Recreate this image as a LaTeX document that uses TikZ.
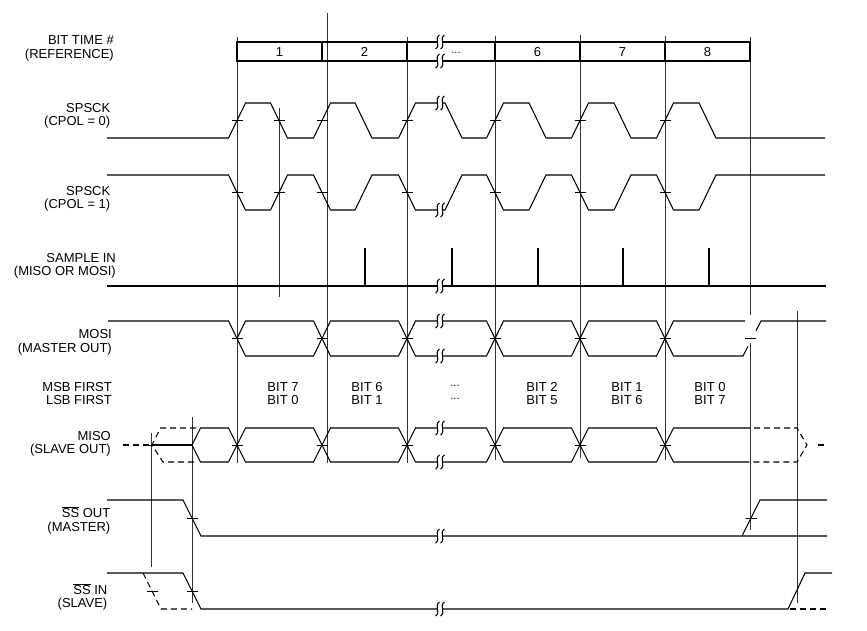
\documentclass[tikz,border=0pt]{standalone}
\usepackage{fontspec}
\setmainfont{Liberation Sans}
\usepackage{tikz}

% break mark across a signal line
\newcommand{\sigbreak}[1]{%
  \foreach \bx in {437.5,442.5}
    \draw[sig] ({\bx+2},{#1-7}) .. controls ({\bx-4},{#1-3}) and ({\bx+4},{#1+3}) .. ({\bx-2},{#1+7});
}
\newcommand{\bitdots}{\raisebox{2.5pt}{\fontsize{11}{11}\selectfont ...}}

\begin{document}
\begin{tikzpicture}[
    x=1pt, y=-1pt,
    sig/.style={line width=1.05pt, black},
    dsig/.style={sig, dash pattern=on 6pt off 4pt},
    ref/.style={line width=0.8pt, black!80},
    tck/.style={line width=0.8pt, black},
    lbl/.style={
      anchor=east,
      align=right,
      inner sep=0pt,
      font=\fontsize{13}{13.5}\selectfont
    },
    txt/.style={
      align=center,
      inner sep=0pt,
      font=\fontsize{13}{13.5}\selectfont
    }
  ]
    \useasboundingbox (0,0) rectangle (867,630);

    % Signal names
    \node[lbl] (lbit) at (114,48.5) {BIT TIME \#\\(REFERENCE)};
    \node[lbl] (lck0) at (110.5,116) {SPSCK\\(CPOL = 0)};
    \node[lbl] (lck1) at (110.5,199) {SPSCK\\(CPOL = 1)};
    \node[lbl] (lsmp) at (116,266) {SAMPLE IN\\(MISO OR MOSI)};
    \node[lbl] (lmosi) at (112,342.5) {MOSI\\(MASTER OUT)};
    \node[lbl] (lord) at (112,393.5) {MSB FIRST\\LSB FIRST};
    \node[lbl] (lmiso) at (111,444) {MISO\\(SLAVE OUT)};
    \node[lbl] (lsso) at (110.5,520.5) {$\overline{\mbox{SS}}$ OUT\\(MASTER)};
    \node[lbl] (lssi) at (107.5,597) {$\overline{\mbox{SS}}$ IN\\(SLAVE)};

    % Reference lines
    \foreach \x/\t/\b in {237/37/463, 327/13/463, 407/37/463, 495/36/460,
        580/35/458, 665/36/460, 279/108/297, 151/433/567, 192/417/603, 797/311/603}
      \draw[ref] (\x,\t) -- (\x,\b);
    \draw[ref] (750,37) -- (750,315) (750,343) -- (750,530);

    % Bit time row
    \draw[sig] (437.5,42) -- (237,42) -- (237,61) -- (437.5,61);
    \draw[sig] (442.5,42) -- (750,42) -- (750,61) -- (442.5,61);
    \foreach \x in {322,407,495,580,665}
      \draw[sig] (\x,42) -- (\x,61);
    \sigbreak{42}
    \sigbreak{61}
    \foreach \x/\n [count=\i] in {279.5/1, 364.5/2, 456/\bitdots, 537.5/6, 622.5/7, 707.5/8}
      \node[txt, anchor=base] (bt\i) at (\x,56) {\n};

    % Clocks
    \foreach \idle/\act in {138/103, 175/210} {
      \draw[sig] (107,\idle) -- (228.5,\idle) -- (245.5,\act) -- (270.5,\act) -- (287.5,\idle)
        -- (313.5,\idle) -- (330.5,\act) -- (355,\act) -- (372,\idle) -- (398.5,\idle)
        -- (415.5,\act) -- (437.5,\act);
      \draw[sig] (442.5,\act) -- (445,\act) -- (462,\idle) -- (486.5,\idle) -- (503.5,\act)
        -- (529,\act) -- (546,\idle) -- (571.5,\idle) -- (588.5,\act) -- (614,\act)
        -- (631,\idle) -- (656.5,\idle) -- (673.5,\act) -- (699,\act) -- (716,\idle) -- (825,\idle);
      \sigbreak{\act}
      \foreach \x in {237,279,322,407,495,580,665}
        \draw[tck] ({\x-5.5},{(\idle+\act)/2}) -- ({\x+5.5},{(\idle+\act)/2});
    }

    % Sample in
    \draw[sig] (107,286) -- (437.5,286) (442.5,286) -- (826,286);
    \sigbreak{286}
    \foreach \x in {365,452,538,623,709}
      \draw[sig] (\x,248) -- (\x,286);

    % MOSI
    \draw[sig] (108,321) -- (228.5,321) -- (237,338.5);
    \foreach \a/\b in {237/322, 322/407, 495/580, 580/665}
      \draw[sig] (\a,338.5) -- ({\a+8.5},321) -- ({\b-8.5},321) -- (\b,338.5)
        -- ({\b-8.5},356) -- ({\a+8.5},356) -- cycle;
    \draw[sig] (437.5,321) -- (415.5,321) -- (407,338.5) -- (415.5,356) -- (437.5,356);
    \draw[sig] (442.5,321) -- (486.5,321) -- (495,338.5) -- (486.5,356) -- (442.5,356);
    \draw[sig] (745,321) -- (673.5,321) -- (665,338.5) -- (673.5,356) -- (743,356) -- (748,346.3);
    \draw[sig] (756,330.7) -- (761,321) -- (826,321);
    \sigbreak{321}
    \sigbreak{356}
    \foreach \x in {237,322,407,495,580,665,750}
      \draw[tck] ({\x-5.5},338.5) -- ({\x+5.5},338.5);

    % Bit order
    \foreach \x/\m/\l [count=\i] in {283/BIT 7/BIT 0, 367/BIT 6/BIT 1, 455/\bitdots/\bitdots,
        542/BIT 2/BIT 5, 627/BIT 1/BIT 6, 710/BIT 0/BIT 7}
      \node[txt] (bo\i) at (\x,393.5) {\m\\\l};

    % MISO
    \draw[dsig] (123,445) -- (152,445);
    \draw[dsig] (196,428) -- (160.5,428) -- (152,445) -- (163,462) -- (196,462);
    \draw[sig] (152,445) -- (192,445);
    \foreach \a/\b in {192/237, 237/322, 322/407, 495/580, 580/665}
      \draw[sig] (\a,445) -- ({\a+8.5},428) -- ({\b-8.5},428) -- (\b,445)
        -- ({\b-8.5},462) -- ({\a+8.5},462) -- cycle;
    \draw[sig] (437.5,428) -- (415.5,428) -- (407,445) -- (415.5,462) -- (437.5,462);
    \draw[sig] (442.5,428) -- (486.5,428) -- (495,445) -- (486.5,462) -- (442.5,462);
    \draw[sig] (744,428) -- (673.5,428) -- (665,445) -- (673.5,462) -- (744,462);
    \draw[dsig] (744,428) -- (797,428) -- (807,445) -- (797,462) -- (744,462);
    \draw[sig] (818,445) -- (824,445);
    \sigbreak{428}
    \sigbreak{462}
    \foreach \x in {151,237,322,407,495,580,665}
      \draw[tck] ({\x-5.5},445) -- ({\x+5.5},445);

    % SS out (master)
    \draw[sig] (107,500) -- (183,500) -- (201,536) -- (437.5,536);
    \draw[sig] (442.5,536) -- (827,536) (742,536) -- (760,500) -- (827,500);
    \sigbreak{536}
    \foreach \x in {192,751}
      \draw[tck] ({\x-5.5},518) -- ({\x+5.5},518);

    % SS in (slave)
    \draw[sig] (107,573) -- (183,573) -- (201,609) -- (437.5,609);
    \draw[sig] (442.5,609) -- (788,609) -- (805,573) -- (832,573);
    \draw[dsig] (143,573) -- (161,609) -- (192,609);
    \draw[dsig] (790,609) -- (828,609);
    \sigbreak{609}
    \foreach \x in {152,192}
      \draw[tck] ({\x-5.5},591) -- ({\x+5.5},591);

\end{tikzpicture}
\end{document}
